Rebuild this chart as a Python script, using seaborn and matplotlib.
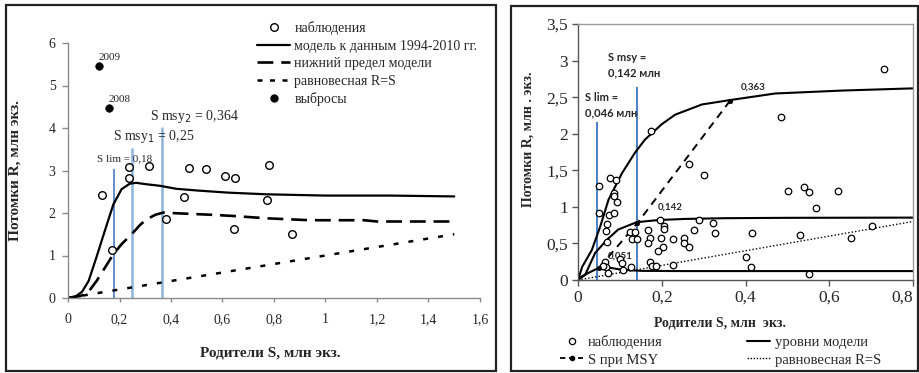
import numpy as np
import pandas as pd
import matplotlib
matplotlib.use("Agg")
import matplotlib.pyplot as plt
import seaborn as sns
from matplotlib.lines import Line2D
from matplotlib.patches import Rectangle

# ---------------- data: left panel ----------------
obs_S = [0.133, 0.17, 0.238, 0.238, 0.315, 0.38, 0.452, 0.47, 0.537, 0.611, 0.643, 0.65, 0.772, 0.779, 0.871]
obs_R = [2.42, 1.12, 3.09, 2.83, 3.10, 1.86, 2.38, 3.07, 3.04, 2.87, 1.62, 2.83, 2.31, 3.12, 1.51]
out_S = [0.12, 0.16]
out_R = [5.46, 4.47]
out_lbl = ["2009", "2008"]

model_S = [0, 0.03, 0.055, 0.08, 0.11, 0.144, 0.176, 0.208, 0.24, 0.265, 0.3, 0.357, 0.42, 0.5, 0.62, 0.77, 1.0, 1.25, 1.5]
model_R = [0, 0.04, 0.15, 0.40, 0.95, 1.60, 2.20, 2.56, 2.69, 2.71, 2.68, 2.64, 2.57, 2.53, 2.48, 2.44, 2.41, 2.41, 2.39]
lower_S = [0, 0.05, 0.08, 0.111, 0.14, 0.176, 0.21, 0.247, 0.28, 0.305, 0.34, 0.37, 0.435, 0.55, 0.642, 0.772, 0.94, 1.15, 1.2, 1.5]
lower_R = [0, 0.05, 0.15, 0.40, 0.68, 1.03, 1.28, 1.50, 1.72, 1.85, 1.96, 2.01, 1.99, 1.96, 1.93, 1.875, 1.83, 1.83, 1.80, 1.80]
eq_left = [0, 1.5]

ref_S = [0.18, 0.25, 0.364]
ref_top = [3.03, 3.53, 4.02]

left_xticks = [0, 0.2, 0.4, 0.6, 0.8, 1.0, 1.2, 1.4, 1.6]
left_xlabels = ["0", "0,2", "0,4", "0,6", "0,8", "1", "1,2", "1,4", "1,6"]
left_yticks = [0, 1, 2, 3, 4, 5, 6]
left_ylabels = ["0", "1", "2", "3", "4", "5", "6"]

# ---------------- data: right panel ----------------
r_obs_S = [0.049, 0.077, 0.090, 0.085, 0.087, 0.092, 0.049, 0.073, 0.086, 0.069, 0.066, 0.069,
           0.124, 0.136, 0.130, 0.142, 0.168, 0.172, 0.168, 0.196, 0.206, 0.206, 0.198, 0.203, 0.192,
           0.226, 0.252, 0.252, 0.264, 0.065, 0.068, 0.060, 0.072, 0.100, 0.105, 0.107, 0.127,
           0.172, 0.176, 0.187, 0.226, 0.264, 0.301, 0.289, 0.322, 0.276, 0.326, 0.416, 0.531,
           0.402, 0.414, 0.501, 0.540, 0.551, 0.620, 0.569, 0.651, 0.701, 0.551, 0.731, 0.485, 0.175]
r_obs_R = [1.29, 1.40, 1.37, 1.19, 1.15, 1.06, 0.91, 0.89, 0.91, 0.77, 0.67, 0.52,
           0.66, 0.66, 0.56, 0.56, 0.68, 0.57, 0.51, 0.82, 0.74, 0.70, 0.58, 0.45, 0.39,
           0.56, 0.58, 0.50, 0.45, 0.25, 0.18, 0.19, 0.10, 0.29, 0.23, 0.14, 0.18,
           0.24, 0.19, 0.19, 0.20, 1.58, 1.44, 0.82, 0.78, 0.69, 0.64, 0.64, 0.62,
           0.32, 0.18, 1.21, 1.27, 1.20, 1.21, 0.99, 0.58, 0.74, 0.08, 2.89, 2.23, 2.04]

top_S = [0, 0.01, 0.033, 0.053, 0.073, 0.105, 0.136, 0.16, 0.2, 0.232, 0.296, 0.363, 0.471, 0.631, 0.8]
top_R = [0, 0.18, 0.41, 0.73, 1.10, 1.46, 1.74, 1.92, 2.13, 2.26, 2.40, 2.46, 2.55, 2.59, 2.62]
mid_S = [0, 0.017, 0.041, 0.069, 0.096, 0.14, 0.192, 0.256, 0.35, 0.5, 0.8]
mid_R = [0, 0.07, 0.37, 0.55, 0.69, 0.79, 0.82, 0.835, 0.845, 0.85, 0.853]
low_S = [0, 0.009, 0.033, 0.051, 0.073, 0.105, 0.152, 0.25, 0.8]
low_R = [0, 0.05, 0.12, 0.17, 0.17, 0.14, 0.125, 0.122, 0.122]
msy_S = [0.051, 0.142, 0.363]
msy_R = [0.17, 0.78, 2.45]
msy_lbl = ["0,051", "0,142", "0,363"]
eq_right = [0, 0.8]

r_ref_S = [0.046, 0.142]
r_ref_top = [2.16, 2.64]

right_xticks = [0, 0.2, 0.4, 0.6, 0.8]
right_xlabels = ["0", "0,2", "0,4", "0,6", "0,8"]
right_yticks = [0, 0.5, 1, 1.5, 2, 2.5, 3, 3.5]
right_ylabels = ["0", "0,5", "1", "1,5", "2", "2,5", "3", "3,5"]

# ---------------- style ----------------
sns.set_style("white")
plt.rcParams["font.family"] = ["Liberation Serif", "DejaVu Serif"]
plt.rcParams["axes.unicode_minus"] = False

W, H = 920, 373
fig = plt.figure(figsize=(W / 100, H / 100), dpi=100)

def fx(px):
    return px / W

def fy(py):
    return 1 - py / H

# panel frames
fig.patches.append(Rectangle((fx(6), fy(371)), fx(496) - fx(6), fy(5) - fy(371),
                             transform=fig.transFigure, fill=False, ec="#222222", lw=1.6))
fig.patches.append(Rectangle((fx(511), fy(371)), fx(918) - fx(511), fy(6) - fy(371),
                             transform=fig.transFigure, fill=False, ec="#222222", lw=1.6))

# ================= LEFT =================
axL = fig.add_axes([fx(68), fy(298), fx(480) - fx(68), fy(43) - fy(298)])
axL.set_facecolor("none")

blue_dark = "#3A6FC0"
blue_light = "#8DB4E0"
axL.vlines(ref_S[0], 0, ref_top[0], color=blue_dark, lw=1.1, zorder=1)
axL.vlines(ref_S[1:], 0, ref_top[1:], color=blue_light, lw=1.8, zorder=1)

sns.lineplot(x=eq_left, y=eq_left, ax=axL, color="black", lw=1.8,
             linestyle=(0, (2, 4)), estimator=None, sort=False)
sns.lineplot(x=lower_S, y=lower_R, ax=axL, color="black", lw=1.9,
             linestyle=(0, (6, 3)), estimator=None, sort=False)
sns.lineplot(x=model_S, y=model_R, ax=axL, color="black", lw=1.6,
             estimator=None, sort=False)
sns.scatterplot(x=obs_S, y=obs_R, ax=axL, marker="o", s=30, facecolor="white",
                edgecolor="black", linewidth=1.0, zorder=5)
sns.scatterplot(x=out_S, y=out_R, ax=axL, marker="o", s=30, color="black",
                edgecolor="black", zorder=5)
for xs, ys, t in zip(out_S, out_R, out_lbl):
    axL.text(xs - 0.003, ys + 0.2, t, fontsize=8, ha="left", va="center")

axL.text(0.318, 4.26, "S msy$_2$ = 0,364", fontsize=10, ha="left", va="center")
axL.text(0.175, 3.79, "S msy$_1$ = 0,25", fontsize=10, ha="left", va="center")
axL.text(0.113, 3.27, "S lim = 0,18", fontsize=8, ha="left", va="center")

axL.set_xlim(0, 1.6)
axL.set_ylim(0, 6)
axL.set_xticks(left_xticks)
axL.set_xticklabels(left_xlabels, fontsize=10)
axL.set_yticks(left_yticks)
axL.set_yticklabels(left_ylabels, fontsize=10)
for s in ["top", "right"]:
    axL.spines[s].set_visible(False)
for s in ["left", "bottom"]:
    axL.spines[s].set_color("#8a8a8a")
    axL.spines[s].set_linewidth(1.0)
axL.tick_params(axis="y", direction="out", length=4, width=1, color="#8a8a8a", pad=5, left=True)
axL.tick_params(axis="x", direction="out", length=3, width=1, color="#8a8a8a", pad=8, bottom=True)
axL.set_ylabel("Потомки R, млн экз.", fontsize=11, fontweight="bold")
axL.set_xlabel("Родители S, млн экз.", fontsize=11, fontweight="bold")
axL.yaxis.set_label_coords(-0.112, 0.5)
axL.xaxis.set_label_coords(0.49, -0.192)

hL = [
    Line2D([], [], ls="none", marker="o", ms=5.5, mfc="white", mec="black", mew=1.0),
    Line2D([], [], color="black", lw=1.6),
    Line2D([], [], color="black", lw=1.9, ls=(0, (6, 3))),
    Line2D([], [], color="black", lw=1.8, ls=(0, (2, 3))),
    Line2D([], [], ls="none", marker="o", ms=5, color="black"),
]
lL = ["наблюдения", "модель к данным 1994-2010 гг.", "нижний предел модели",
      "равновесная R=S", "выбросы"]
axL.legend(hL, lL, loc="upper left", bbox_to_anchor=(fx(257), fy(21)),
           bbox_transform=fig.transFigure, frameon=False, fontsize=10,
           handlelength=2.4, handletextpad=0.3, labelspacing=0.33,
           borderpad=0, borderaxespad=0)

# ================= RIGHT =================
axR = fig.add_axes([fx(578), fy(280), fx(913) - fx(578), fy(24) - fy(280)])
axR.set_facecolor("none")

blue_r = "#4A7FC8"
axR.vlines(r_ref_S, 0, r_ref_top, color=blue_r, lw=1.4, zorder=1)

sns.lineplot(x=eq_right, y=eq_right, ax=axR, color="black", lw=1.0,
             linestyle=(0, (1, 1.5)), estimator=None, sort=False)
for xs, ys in [(top_S, top_R), (mid_S, mid_R), (low_S, low_R)]:
    sns.lineplot(x=xs, y=ys, ax=axR, color="black", lw=1.5, estimator=None, sort=False)
sns.lineplot(x=msy_S, y=msy_R, ax=axR, color="black", lw=1.4,
             linestyle=(0, (4, 3)), estimator=None, sort=False)
sns.scatterplot(x=msy_S, y=msy_R, ax=axR, marker="o", s=12, color="black",
                edgecolor="black", zorder=6)
sns.scatterplot(x=r_obs_S, y=r_obs_R, ax=axR, marker="o", s=22, facecolor="white",
                edgecolor="black", linewidth=0.9, zorder=5)

ann_font = ["Lato", "DejaVu Sans"]
lbl_pos = [(0.072, 0.33), (0.191, 0.99), (0.388, 2.64)]
for (px_, py_), t in zip(lbl_pos, msy_lbl):
    axR.text(px_, py_, t, fontsize=7, fontweight="bold", family=ann_font,
             ha="left", va="center")
axR.text(0.017, 2.57, "S lim =\n0,046 млн", fontsize=8, fontweight="bold",
         family=ann_font, ha="left", va="top", linespacing=1.45)
axR.text(0.072, 3.12, "S msy =\n0,142 млн", fontsize=8, fontweight="bold",
         family=ann_font, ha="left", va="top", linespacing=1.45)

axR.set_xlim(0, 0.8)
axR.set_ylim(0, 3.5)
axR.set_xticks(right_xticks)
axR.set_xticklabels(right_xlabels, fontsize=12.5)
axR.set_yticks(right_yticks)
axR.set_yticklabels(right_ylabels, fontsize=12.5)
# keep the last x tick label inside the figure edge
axR.get_xticklabels()[-1].set_horizontalalignment("right")
for s in ["top", "right", "left", "bottom"]:
    axR.spines[s].set_visible(True)
    axR.spines[s].set_color("#9a9a9a")
    axR.spines[s].set_linewidth(1.0)
axR.spines["left"].set_color("#555555")
axR.spines["bottom"].set_color("#555555")
axR.tick_params(axis="y", direction="out", length=4, width=1, color="#555555", pad=3, left=True)
axR.tick_params(axis="x", direction="out", length=4, width=1, color="#555555", pad=3, bottom=True)
axR.set_ylabel("Потомки R, млн . экз.", fontsize=10, fontweight="bold")
axR.set_xlabel("Родители S, млн  экз.", fontsize=10, fontweight="bold")
axR.yaxis.set_label_coords(-0.13, 0.55)
axR.xaxis.set_label_coords(0.424, -0.142)

hR = [
    Line2D([], [], ls="none", marker="o", ms=4.5, mfc="white", mec="black", mew=0.9),
    Line2D([], [], color="black", lw=1.3, ls=(0, (3, 2)), marker="o", ms=3),
    Line2D([], [], color="black", lw=1.5),
    Line2D([], [], color="black", lw=1.0, ls=(0, (1, 1.2))),
]
lR = ["наблюдения", "S при MSY", "уровни модели", "равновесная R=S"]
axR.legend(hR, lR, loc="upper left", bbox_to_anchor=(fx(560), fy(335)),
           bbox_transform=fig.transFigure, frameon=False, fontsize=10.5, ncol=2,
           handlelength=1.6, handletextpad=0.3, labelspacing=0.3,
           columnspacing=5.8, borderpad=0, borderaxespad=0)

fig.savefig("out.png", dpi=100)
